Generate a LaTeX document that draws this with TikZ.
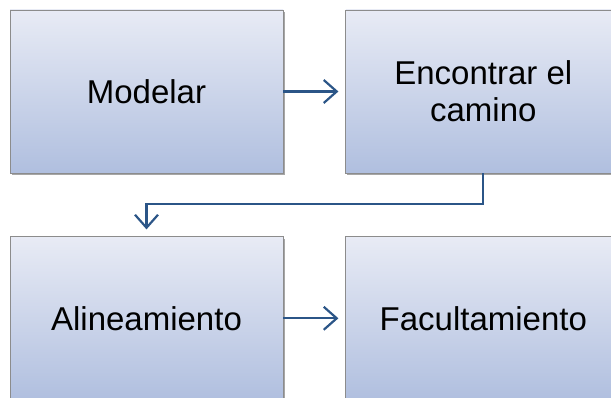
\documentclass[tikz,border=0pt]{standalone}
\usepackage{fontspec}
\setmainfont{Liberation Sans}
\usetikzlibrary{arrows.meta,shadows,positioning}
\definecolor{boxtop}{HTML}{E8EBF5}
\definecolor{boxbot}{HTML}{B0BFDF}
\definecolor{lineblue}{HTML}{2B5587}
\tikzset{
    boxsty/.style={draw=gray!90, line width=0.8pt, top color=boxtop, bottom color=boxbot,
        minimum width=273pt, minimum height=163pt, align=center, inner sep=0pt,
        font=\fontsize{33}{37}\selectfont,
        drop shadow={shadow xshift=1.5pt, shadow yshift=-2.5pt, opacity=0.35, fill=black}},
    widesty/.style={boxsty, minimum width=275pt},
    arrsty/.style={draw=lineblue, line width=2.2pt, -{Straight Barb[length=13pt,width=23pt,line width=2.2pt]}, shorten >=7pt},
}

\begin{document}
\begin{tikzpicture}[x=1pt,y=1pt]
\useasboundingbox (0,0) rectangle (611,-398);
\clip (0,0) rectangle (611,-398);

% top row
\node[boxsty] (mod) at (146.5,-91.5) {Modelar};
\node[widesty, right=62pt of mod] (enc) {Encontrar el\\camino};

% bottom row
\node[boxsty, below=63pt of mod] (ali) {Alineamiento};
\node[widesty, right=62pt of ali] (fac) {Facultamiento};

% connectors
\draw[arrsty] (mod) -- (enc);
\draw[arrsty] (enc.south) -- ++(0,-31pt) -| (ali.north);
\draw[arrsty] (ali) -- (fac);
\end{tikzpicture}
\end{document}
